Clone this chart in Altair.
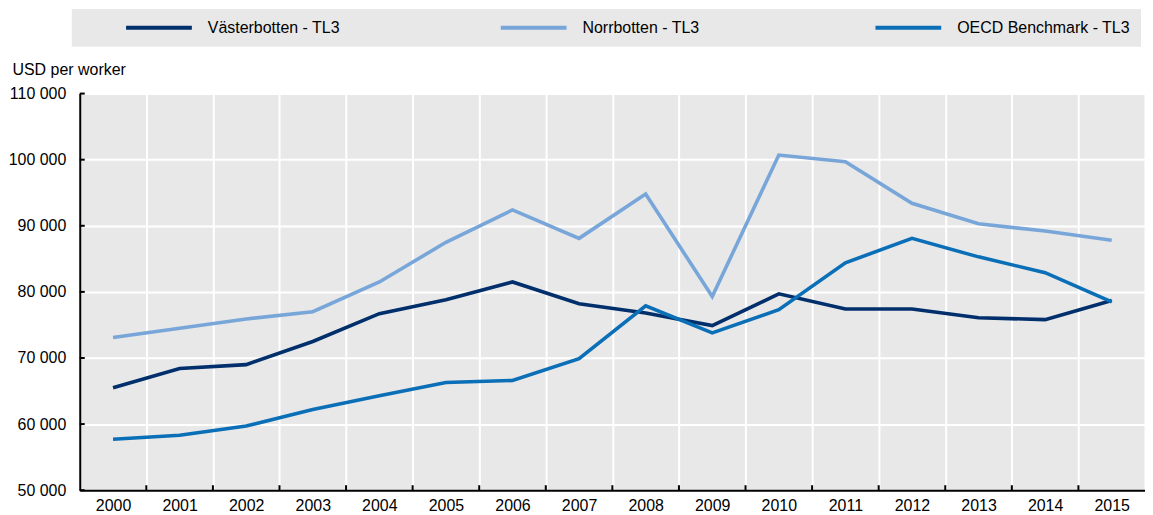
import altair as alt
import pandas as pd

years = [str(y) for y in range(2000, 2016)]
series_names = ["Västerbotten - TL3", "Norrbotten - TL3", "OECD Benchmark - TL3"]
series_colors = ["#002F6C", "#78A6D9", "#0B6FB8"]

vasterbotten = [65500, 68400, 69000, 72500, 76700, 78800, 81500, 78200, 76800, 74900,
                79700, 77400, 77400, 76100, 75800, 78700]
norrbotten = [73100, 74500, 75900, 77000, 81500, 87500, 92400, 88100, 94800, 79300,
              100700, 99700, 93400, 90300, 89200, 87800]
oecd = [57700, 58300, 59700, 62200, 64300, 66300, 66600, 69900, 77900, 73800,
        77300, 84400, 88100, 85300, 82900, 78500]

y_ticks = [50000, 60000, 70000, 80000, 90000, 100000, 110000]

rows = []
for name, vals in zip(series_names, [vasterbotten, norrbotten, oecd]):
    for yr, v in zip(years, vals):
        rows.append({"year": yr, "value": v, "series": name})
df = pd.DataFrame(rows)

tick_df = pd.DataFrame({"year": years[1:], "base": [50000] * (len(years) - 1),
                        "top": [50750] * (len(years) - 1)})
ytick_df = pd.DataFrame({"value": y_ticks})

FONT = "Liberation Sans"
FS = 16

x_scale = alt.Scale(type="band", paddingInner=0, paddingOuter=0, domain=years)
y_scale = alt.Scale(domain=[50000, 110000], nice=False)

lines = alt.Chart(df).mark_line(strokeWidth=3.6).encode(
    x=alt.X("year:O", bandPosition=0.5, scale=x_scale,
            axis=alt.Axis(title=None, labelAngle=0, tickBand="extent", grid=True,
                          gridColor="white", gridWidth=2, domainColor="black",
                          domainWidth=2, ticks=False, labelFontSize=FS,
                          labelColor="black", labelPadding=7, labelFont=FONT)),
    y=alt.Y("value:Q", scale=y_scale,
            axis=alt.Axis(values=y_ticks, title="USD per worker", titleAngle=0,
                          titleAlign="left", titleBaseline="middle", titleX=-68,
                          titleY=-24, titleFontSize=FS, titleFontWeight="normal",
                          titleFont=FONT, titleColor="black", titleLimit=400,
                          labelExpr="replace(format(datum.value, ','), ',', ' ')",
                          labelFontSize=FS, labelColor="black", labelFont=FONT,
                          labelPadding=14, grid=True, gridColor="white", gridWidth=2,
                          domainColor="black", domainWidth=2, ticks=False)),
    color=alt.Color("series:N", scale=alt.Scale(domain=series_names, range=series_colors),
                    legend=alt.Legend(title=None, orient="none", legendX=-8, legendY=-85,
                                      direction="horizontal", columns=3,
                                      fillColor="#E8E8E8", padding=11,
                                      symbolType="M0,0H12", symbolSize=121,
                                      symbolStrokeWidth=4, symbolOffset=35.5,
                                      symbolFillColor="transparent",
                                      labelFontSize=FS, labelFont=FONT, labelLimit=400,
                                      labelColor="black", labelOffset=74,
                                      columnPadding=77, gridAlign="all")),
)

xticks = alt.Chart(tick_df).mark_rule(color="black", strokeWidth=2).encode(
    x=alt.X("year:O", bandPosition=0, scale=x_scale),
    y=alt.Y("base:Q", scale=y_scale),
    y2="top:Q",
)

yticks = alt.Chart(ytick_df).mark_rule(color="black", strokeWidth=2).encode(
    x=alt.value(0), x2=alt.value(5),
    y=alt.Y("value:Q", scale=y_scale),
)

chart = alt.layer(lines, xticks, yticks).properties(
    width=1069, height=398,
    padding={"left": 0, "top": 0, "right": 0, "bottom": 0},
).configure(font=FONT).configure_view(fill="#E8E8E8", stroke=None)

chart.save("out.html", embed_options={"renderer": "svg", "actions": False})
